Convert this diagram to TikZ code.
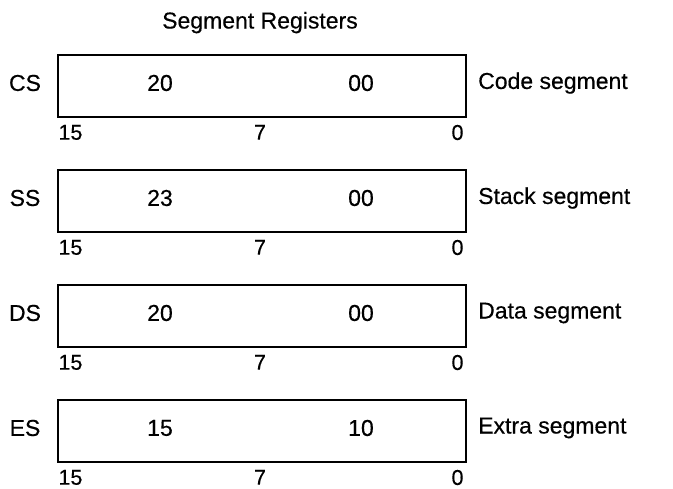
\documentclass[tikz,border=0pt]{standalone}
\usepackage{fontspec}
\setmainfont[FakeBold=0.4]{Liberation Sans}
\begin{document}
\begin{tikzpicture}[x=1pt,y=-1pt,
  txt/.style={font=\fontsize{23}{26}\selectfont, inner sep=0pt},
  bitfont/.style={font=\fontsize{21.5}{24}\selectfont, inner sep=0pt},
  reg/.style={draw, line width=1.4pt, minimum width=408pt, minimum height=62pt, inner sep=0pt}]
\useasboundingbox (0,0) rectangle (673,488);
\node[txt, anchor=base] (title) at (260,28.5) {Segment Registers};
\foreach \r/\nm/\hi/\lo/\desc [count=\i] in {CS/cs/20/00/Code segment, SS/ss/23/00/Stack segment, DS/ds/20/00/Data segment, ES/es/15/10/Extra segment}{
  \pgfmathsetmacro{\yc}{86+115*(\i-1)}
  \pgfmathsetmacro{\yt}{83+115*(\i-1)}
  \node[reg] (\nm) at (262,\yc) {};
  \node[txt] (\nm-name) at (25,\yt) {\r};
  \node[txt] (\nm-hi) at (160,\yt) {\hi};
  \node[txt] (\nm-lo) at (361,\yt) {\lo};
  \node[txt, anchor=west] (\nm-desc) at (478,\yt) {\desc};
  \node[bitfont, anchor=north west] (\nm-b15) at ([xshift=1pt,yshift=-7pt]\nm.south west) {15};
  \node[bitfont, anchor=north] (\nm-b7) at ([xshift=-2pt,yshift=-7pt]\nm.south) {7};
  \node[bitfont, anchor=north east] (\nm-b0) at ([xshift=-3pt,yshift=-7pt]\nm.south east) {0};
}
\end{tikzpicture}
\end{document}
